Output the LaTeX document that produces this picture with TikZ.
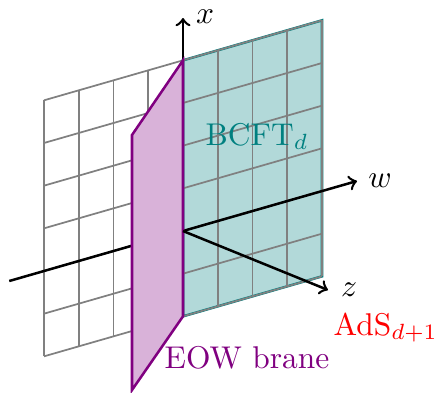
\documentclass[tikz,border=0pt]{standalone}
\begin{document}
\begin{tikzpicture}[x=0.318pt,y=-0.318pt,
  axis/.style={line width=0.8pt,->},
  gridline/.style={gray,line width=0.55pt},
  lbl/.style={inner sep=0pt}]
\useasboundingbox (0,0) rectangle (435,392);
% gray grid (w<0)
\foreach \i in {-4,...,0}
  \draw[gridline] ({183+34.75*\i},{60.33-10*\i}) -- ({183+34.75*\i},{316.33-10*\i});
\foreach \j in {-2,...,4}
  \draw[gridline] (44,{271-42.67*\j}) -- (183,{231-42.67*\j});
% teal plane (w>0)
\coordinate (T1) at (183,60.33);
\coordinate (T2) at (322,20.33);
\coordinate (T3) at (322,276.33);
\coordinate (T4) at (183,316.33);
\filldraw[fill=teal!30,draw=teal,line width=0.8pt] (T1) -- (T2) -- (T3) -- (T4) -- cycle;
\foreach \i in {0,...,4}
  \draw[gridline] ({183+34.75*\i},{60.33-10*\i}) -- ({183+34.75*\i},{316.33-10*\i});
\foreach \j in {-2,...,4}
  \draw[gridline] (183,{231-42.67*\j}) -- (322,{191-42.67*\j});
% axes
\coordinate (O) at (183,231);
\coordinate (Wm) at (9.25,281);
\coordinate (Wp) at (357,181);
\coordinate (Xp) at (183,18);
\coordinate (Zp) at (328,290);
\draw[line width=0.8pt] (Wm) -- (O);
\draw[axis] (O) -- (Wp);
\draw[axis] (O) -- (Xp);
% brane
\coordinate (B2) at (132,135);
\coordinate (B3) at (132,390);
\filldraw[fill=violet!30,draw=violet,line width=0.8pt] (T1) -- (B2) -- (B3) -- (T4) -- cycle;
\draw[axis] (O) -- (Zp);
% labels
\node[lbl] (lx) at (205,17) {$x$};
\node[lbl] (lw) at (380,181) {$w$};
\node[lbl] (lz) at (349,290) {$z$};
\node[lbl,anchor=base west,text=teal] (lb) at (205,145) {BCFT$_d$};
\node[lbl,anchor=base west,text=red] (la) at (333,335) {AdS$_{d+1}$};
\node[lbl,anchor=base west,text=violet] (le) at (164,368) {EOW brane};
\end{tikzpicture}
\end{document}
